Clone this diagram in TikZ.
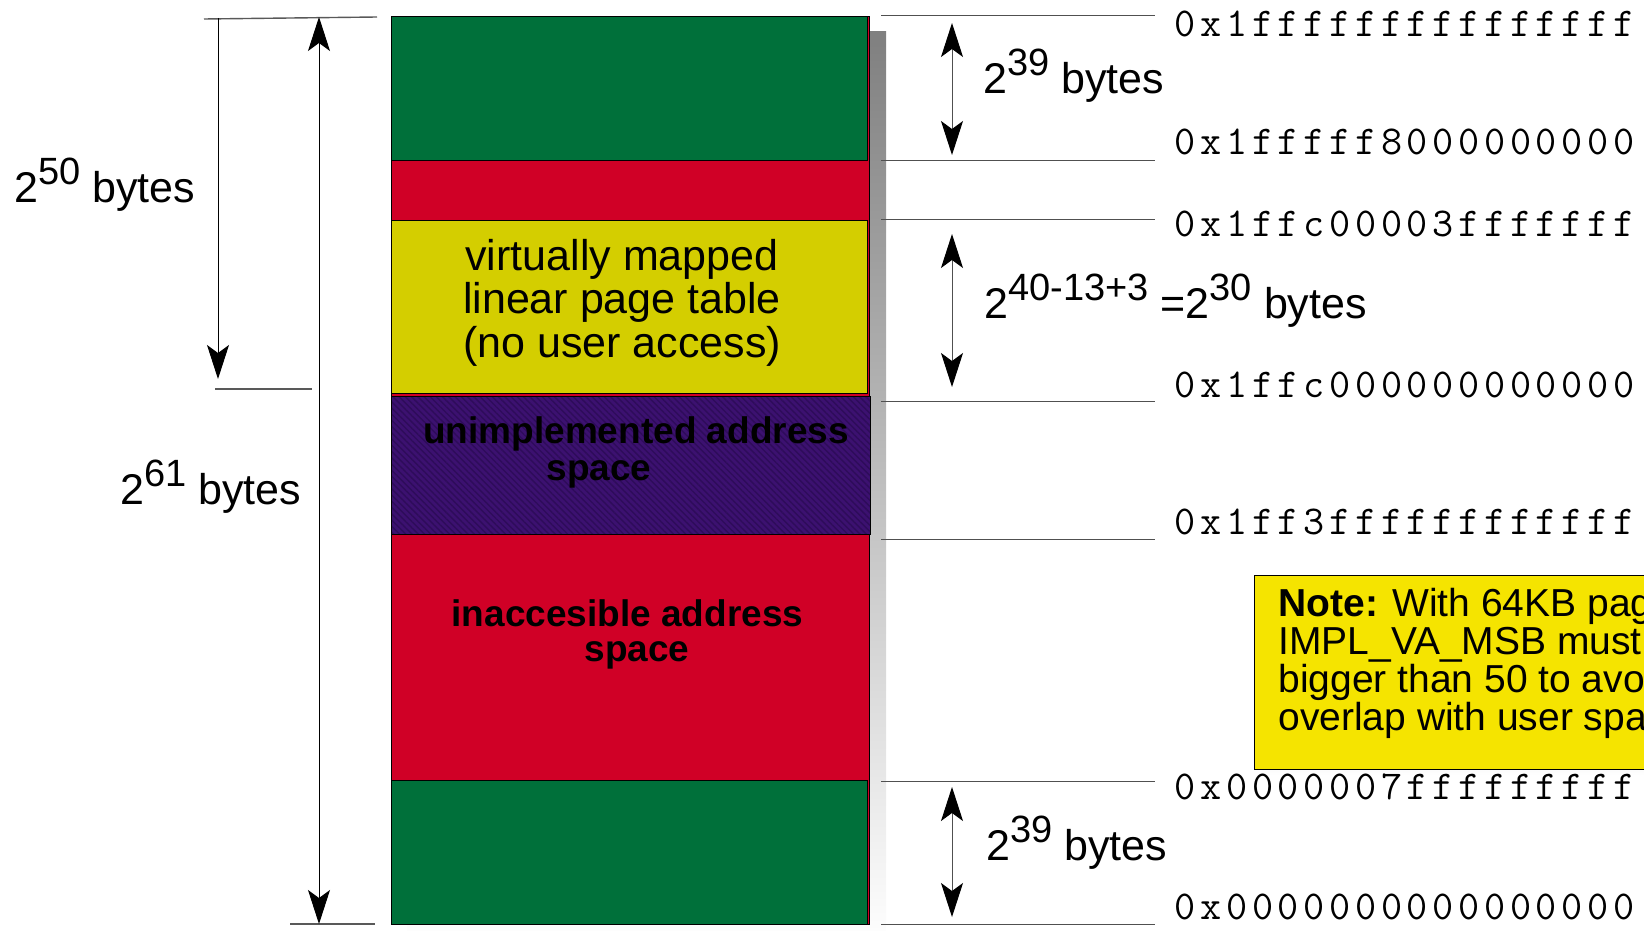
\documentclass[tikz,border=0pt]{standalone}
\usepackage{fontspec}
\setmainfont{Liberation Sans}
\usetikzlibrary{arrows.meta,patterns.meta}

\definecolor{regiongreen}{RGB}{0,112,58}
\definecolor{regionred}{RGB}{208,0,38}
\definecolor{ptyellow}{RGB}{212,206,0}
\definecolor{unimpl}{RGB}{60,17,112}
\definecolor{unimplhatch}{RGB}{46,12,90}
\definecolor{noteyellow}{RGB}{245,228,0}
\definecolor{shade}{RGB}{214,214,214}
\definecolor{guide}{RGB}{80,80,80}

% hex addresses: every character sits in a cell of fixed pitch
\newcommand\hexstr[1]{{\ttfamily\addfontfeature{FakeBold=0.6}\fontsize{20.5}{20.5}\selectfont\hexloop#1\relax}}
\def\hexloop#1{\ifx#1\relax\else\makebox[12.9pt][c]{#1}\expandafter\hexloop\fi}
% power of two with a raised exponent
\newcommand\pw[2]{#1\raisebox{9pt}{\fontsize{19}{19}\selectfont #2}}

\begin{document}
\begin{tikzpicture}[x=0.5pt,y=-0.5pt,
  region/.style={draw=black,line width=0.5pt},
  guideline/.style={draw=guide,line width=0.5pt},
  sideline/.style={draw=gray!70!black,line width=0.7pt},
  headtip/.tip={Stealth[length=17pt,width=11pt,inset=4pt,color=black]},
  dimline/.style={draw=black,line width=0.5pt},
  dimgray/.style={draw=guide,line width=0.5pt},
  sizelabel/.style={anchor=base west,inner sep=0pt,font=\fontsize{21.5}{21.5}\selectfont},
  hexlabel/.style={anchor=base west,inner sep=0pt},
  boxtext/.style={anchor=base,inner sep=0pt,font=\fontsize{21.5}{22}\selectfont},
  boldtext/.style={anchor=base,inner sep=0pt,font=\bfseries\fontsize{18.5}{18.5}\selectfont},
  notetext/.style={anchor=base west,inner sep=0pt,font=\fontsize{19.5}{19}\selectfont}]

\useasboundingbox (0,0) rectangle (1644,931);
\clip (0,0) rectangle (1644,931);

% drop shadow of the address column
\fill[shade] (407,32) rectangle (886,945);

% address column
\filldraw[region,fill=regionred] (391,17) rectangle (869,924);
\filldraw[region,fill=regiongreen] (391,17) rectangle (867,161);
\filldraw[region,fill=ptyellow] (391,220) rectangle (867,393);
\fill[unimpl] (391,396) rectangle (870,534);
\fill[pattern={Lines[angle=-45,distance=2.2pt,line width=0.7pt]},pattern color=unimplhatch]
  (391,396) rectangle (870,534);
\draw[region] (391,396) rectangle (870,534);
\filldraw[region,fill=regiongreen] (391,780) rectangle (867,924);

% region texts
\node[boxtext] (vm1) at (622,270) {virtually mapped};
\node[boxtext] (vm2) at (622,313.5) {linear page table};
\node[boxtext] (vm3) at (622,357) {(no user access)};
\node[boldtext] (ua1) at (636,443) {unimplemented address};
\node[boldtext] (ua2) at (599,480) {space};
\node[boldtext] (ia1) at (627.5,626) {inaccesible address};
\node[boldtext] (ia2) at (637,661) {space};

% guide lines on the left
\draw[sideline] (204,19) -- (377,17);
\draw[sideline] (215,389) -- (312,389);
\draw[sideline] (290,924) -- (375,924);

% guide lines on the right
\foreach \yy in {16,161,219,401,539,781,924}
  \draw[guideline] (881,\yy) -- (1155,\yy);

% size arrows on the left
\coordinate (l50t) at (218,18);
\coordinate (l50b) at (218,379);
\coordinate (l61t) at (319,17);
\coordinate (l61b) at (319,924);
\draw[dimline,-headtip] (l50t) -- (l50b);
\draw[dimline,headtip-headtip] (l61t) -- (l61b);

% size arrows on the right
\coordinate (r1t) at (952,23);
\coordinate (r1b) at (952,155);
\coordinate (r2t) at (952,234);
\coordinate (r2b) at (952,387);
\coordinate (r3t) at (952,787);
\coordinate (r3b) at (952,917);
\draw[dimgray,headtip-headtip] (r1t) -- (r1b);
\draw[dimgray,headtip-headtip] (r2t) -- (r2b);
\draw[dimgray,headtip-headtip] (r3t) -- (r3b);

% size labels
\node[sizelabel] (s50) at (14,202) {\pw{2}{50} bytes};
\node[sizelabel] (s61) at (120,504) {\pw{2}{61} bytes};
\node[sizelabel] (s39a) at (983,94) {\pw{2}{39} bytes};
\node[sizelabel] (s30) at (984,318) {\pw{2}{40-13+3} =\pw{2}{30} bytes};
\node[sizelabel] (s39b) at (986,860) {\pw{2}{39} bytes};

% note box
\fill[shade] (1260,581) rectangle (1700,775);
\filldraw[draw=black,line width=0.5pt,fill=noteyellow] (1254,575) rectangle (1700,769);
\node[notetext] (n1) at (1278,616) {\textbf{Note:} With 64KB pages,};
\node[notetext] (n2) at (1278,654) {IMPL\_VA\_MSB must be};
\node[notetext] (n3) at (1278,692) {bigger than 50 to avoid};
\node[notetext] (n4) at (1278,730) {overlap with user space};

% addresses
\node[hexlabel] (h1) at (1172,37) {\hexstr{0x1fffffffffffffff}};
\node[hexlabel] (h2) at (1172,155) {\hexstr{0x1fffff8000000000}};
\node[hexlabel] (h3) at (1172,236) {\hexstr{0x1ffc00003fffffff}};
\node[hexlabel] (h4) at (1172,397) {\hexstr{0x1ffc000000000000}};
\node[hexlabel] (h5) at (1172,534) {\hexstr{0x1ff3ffffffffffff}};
\node[hexlabel] (h6) at (1172,799) {\hexstr{0x0000007fffffffff}};
\node[hexlabel] (h7) at (1172,919) {\hexstr{0x0000000000000000}};
\end{tikzpicture}
\end{document}
